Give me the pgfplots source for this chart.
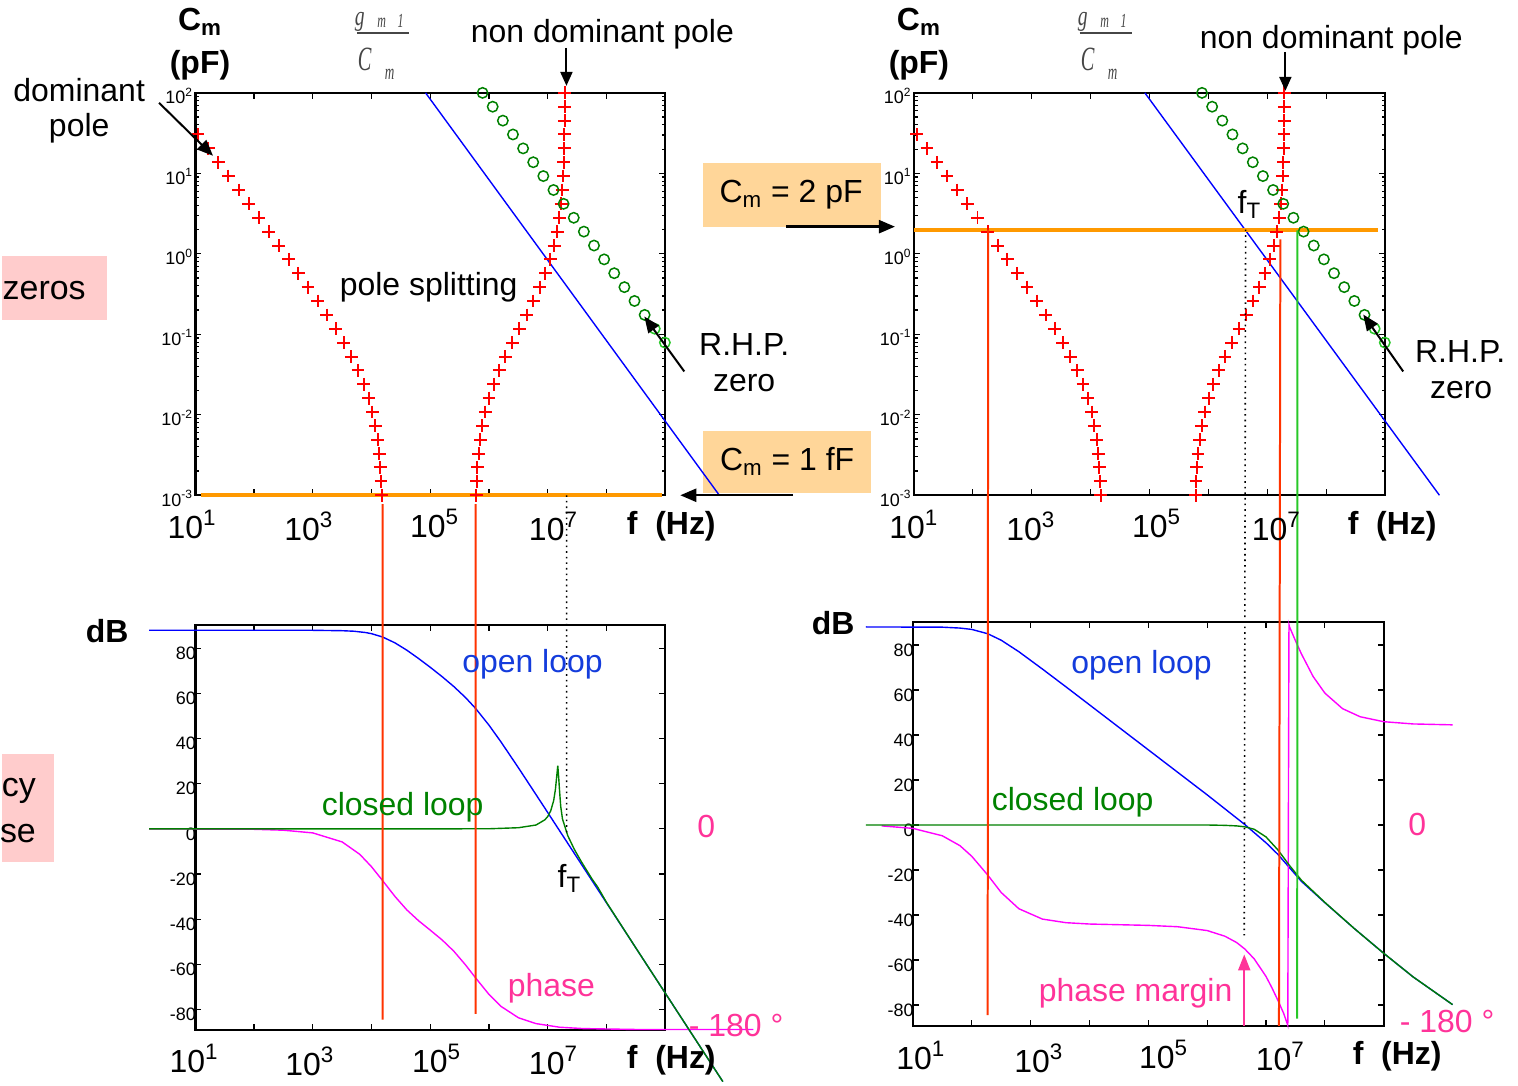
\documentclass[border=0pt]{standalone}
\usepackage{fontspec}
\setmainfont{Liberation Sans}
\newfontfamily\serifit{Liberation Serif}
\usepackage{pgfplots}
\pgfplotsset{compat=1.18}
\usetikzlibrary{arrows.meta}
\definecolor{mblue}{RGB}{0,0,255}
\definecolor{dgreen}{RGB}{0,128,0}
\definecolor{lgreen}{RGB}{40,200,40}
\definecolor{mmag}{RGB}{255,0,255}
\definecolor{pinktxt}{RGB}{255,51,153}
\definecolor{redline}{RGB}{255,51,0}
\definecolor{mred}{RGB}{255,0,0}
\definecolor{morange}{RGB}{255,153,0}
\definecolor{boxorange}{RGB}{255,214,153}
\definecolor{boxpink}{RGB}{255,204,204}
\definecolor{txtblue}{RGB}{20,60,220}
\definecolor{txtgreen}{RGB}{0,130,0}
\definecolor{fgray}{RGB}{70,70,70}
\newcommand{\fa}{\fontsize{16}{19}\selectfont}
\newcommand{\fz}{\fontsize{17}{20}\selectfont}
\newcommand{\fs}{\fontsize{9}{10}\selectfont}
\pgfplotsset{
  common/.style={scale only axis, anchor=south west, clip=false,
    xmin=1, xmax=9, xtick={1,...,9}, xticklabels={},
    tick align=inside, axis line style={line width=1.2pt},
    every tick/.style={black, line width=0.6pt},
    major tick length=3pt, minor tick length=1.8pt},
  topax/.style={common, ymin=-3, ymax=2, ytick={-3,...,2},
    yticklabels={10\textsuperscript{-3},10\textsuperscript{-2},10\textsuperscript{-1},10\textsuperscript{0},10\textsuperscript{1},10\textsuperscript{2}},
    minor ytick={-2.699,-2.523,-2.398,-2.301,-2.222,-2.155,-2.097,-2.046,
      -1.699,-1.523,-1.398,-1.301,-1.222,-1.155,-1.097,-1.046,
      -0.699,-0.523,-0.398,-0.301,-0.222,-0.155,-0.097,-0.046,
      0.301,0.477,0.602,0.699,0.778,0.845,0.903,0.954,
      1.301,1.477,1.602,1.699,1.778,1.845,1.903,1.954},
    yticklabel style={font=\fs, inner sep=0pt, xshift=-1pt, yshift=-1.5pt}},
  botax/.style={common, ymin=-89.2, ymax=90.3, ytick={-80,-60,...,80},
    yticklabels={-80,-60,-40,-20,0,20,40,60,80},
    yticklabel style={font=\fs, inner sep=0pt, xshift=0.5pt, yshift=-2.5pt}},
  plusmk/.style={only marks, mark=+, color=mred, mark size=3.2pt, mark options={draw=mred, line width=1pt}},
  circmk/.style={only marks, mark=o, color=dgreen, mark size=2.6pt, mark options={draw=dgreen, line width=0.75pt}},
  lcircmk/.style={only marks, mark=o, color=lgreen, mark size=2.6pt, mark options={draw=lgreen, line width=0.75pt}},
}
\begin{document}
\begin{tikzpicture}
\path (0pt,0pt) rectangle (759pt,-543.5pt);
% ---------- background boxes ----------
\begin{scope}[x=0.5pt,y=-0.5pt]
\fill[boxpink] (0,256) rectangle (105,320);
\fill[boxpink] (0,755) rectangle (52,863);
\fill[boxorange] (702,163) rectangle (880,227);
\fill[boxorange] (702,432) rectangle (870,494);
\end{scope}

% ---------- top left ----------
\begin{axis}[topax, at={(96.65pt,-248pt)}, width=235.35pt, height=201.5pt]
\addplot[morange, line width=2pt] coordinates {(1.1,-3) (8.95,-3)};
\addplot[mblue, line width=0.7pt] coordinates {(4.92,2) (9.92,-3)};
\addplot[plusmk] coordinates {(4.171,-3.000) (4.162,-2.828) (4.148,-2.655) (4.129,-2.483) (4.102,-2.310) (4.065,-2.138) (4.016,-1.966) (3.950,-1.793) (3.869,-1.621) (3.770,-1.448) (3.656,-1.276) (3.527,-1.103) (3.387,-0.931) (3.238,-0.759) (3.081,-0.586) (2.920,-0.414) (2.755,-0.241) (2.588,-0.069) (2.420,0.103) (2.249,0.276) (2.079,0.448) (1.907,0.621) (1.736,0.793) (1.563,0.966) (1.391,1.138) (1.220,1.310) (1.047,1.483)};
\addplot[plusmk] coordinates {(5.780,-3.000) (5.789,-2.828) (5.803,-2.655) (5.822,-2.483) (5.849,-2.310) (5.887,-2.138) (5.936,-1.966) (6.001,-1.793) (6.080,-1.621) (6.174,-1.448) (6.280,-1.276) (6.397,-1.103) (6.517,-0.931) (6.639,-0.759) (6.756,-0.586) (6.864,-0.414) (6.960,-0.241) (7.042,-0.069) (7.108,0.103) (7.160,0.276) (7.199,0.448) (7.227,0.621) (7.248,0.793) (7.262,0.966) (7.272,1.138) (7.279,1.310) (7.283,1.483) (7.286,1.655) (7.288,1.828) (7.290,2.000)};
\addplot[circmk] coordinates {(8.649,-0.759) (8.476,-0.586) (8.304,-0.414) (8.131,-0.241) (7.959,-0.069) (7.787,0.103) (7.614,0.276) (7.442,0.448) (7.269,0.621) (7.097,0.793) (6.924,0.966) (6.752,1.138) (6.580,1.310) (6.407,1.483) (6.235,1.655) (6.062,1.828) (5.890,2.000)};
\addplot[lcircmk] coordinates {(8.993,-1.103) (8.821,-0.931)};
\coordinate (TLr1) at (axis cs:4.19,-3);
\coordinate (TLr2) at (axis cs:5.77,-3);
\coordinate (TLd) at (axis cs:7.32,-3);
\end{axis}

% ---------- top right ----------
\begin{axis}[topax, at={(456.5pt,-248pt)}, width=236pt, height=201.5pt]
\addplot[mblue, line width=0.7pt] coordinates {(4.92,2) (9.92,-3)};
\addplot[morange, line width=2pt] coordinates {(1.0,0.301) (8.88,0.301)};
\addplot[plusmk] coordinates {(4.171,-3.000) (4.162,-2.828) (4.148,-2.655) (4.129,-2.483) (4.102,-2.310) (4.065,-2.138) (4.016,-1.966) (3.950,-1.793) (3.869,-1.621) (3.770,-1.448) (3.656,-1.276) (3.527,-1.103) (3.387,-0.931) (3.238,-0.759) (3.081,-0.586) (2.920,-0.414) (2.755,-0.241) (2.588,-0.069) (2.420,0.103) (2.249,0.276) (2.079,0.448) (1.907,0.621) (1.736,0.793) (1.563,0.966) (1.391,1.138) (1.220,1.310) (1.047,1.483)};
\addplot[plusmk] coordinates {(5.780,-3.000) (5.789,-2.828) (5.803,-2.655) (5.822,-2.483) (5.849,-2.310) (5.887,-2.138) (5.936,-1.966) (6.001,-1.793) (6.080,-1.621) (6.174,-1.448) (6.280,-1.276) (6.397,-1.103) (6.517,-0.931) (6.639,-0.759) (6.756,-0.586) (6.864,-0.414) (6.960,-0.241) (7.042,-0.069) (7.108,0.103) (7.160,0.276) (7.199,0.448) (7.227,0.621) (7.248,0.793) (7.262,0.966) (7.272,1.138) (7.279,1.310) (7.283,1.483) (7.286,1.655) (7.288,1.828) (7.290,2.000)};
\addplot[circmk] coordinates {(8.649,-0.759) (8.476,-0.586) (8.304,-0.414) (8.131,-0.241) (7.959,-0.069) (7.787,0.103) (7.614,0.276) (7.442,0.448) (7.269,0.621) (7.097,0.793) (6.924,0.966) (6.752,1.138) (6.580,1.310) (6.407,1.483) (6.235,1.655) (6.062,1.828) (5.890,2.000)};
\addplot[lcircmk] coordinates {(8.993,-1.103) (8.821,-0.931)};
\coordinate (TRr1) at (axis cs:2.26,0.301);
\coordinate (TRr2) at (axis cs:7.22,0.18);
\coordinate (TRg) at (axis cs:7.51,0.29);
\coordinate (TRd) at (axis cs:6.63,0.301);
\end{axis}

% ---------- bottom left ----------
\begin{axis}[botax, at={(96.65pt,-515.85pt)}, width=235.35pt, height=202.85pt]
\addplot[mblue, line width=0.7pt] coordinates {(0.215,88.0) (3.0,87.98) (3.5,87.8) (3.7,87.57) (3.9,86.98) (4.0,86.48) (4.19,84.99) (4.4,82.39) (4.6,79.17) (4.8,75.49) (5.0,71.58) (5.2,67.46) (5.4,63.07) (5.6,58.17) (5.77,53.39) (6.0,45.91) (6.2,38.64) (6.5,27.06) (6.8,15.16) (7.0,7.19) (7.3,-4.8) (7.6,-16.8) (8.0,-32.8) (9.0,-72.8) (9.98,-112)};
\addplot[mmag, line width=0.7pt] coordinates {(0.215,0) (2.0,-0.2) (2.5,-0.6) (3.0,-1.8) (3.5,-5.8) (3.8,-11.3) (4.0,-16.8) (4.19,-23.0) (4.4,-30.0) (4.6,-35.9) (4.8,-40.7) (5.0,-44.9) (5.2,-49.2) (5.4,-54.2) (5.6,-60.3) (5.77,-66.0) (6.0,-73.4) (6.2,-78.6) (6.5,-83.7) (6.8,-86.3) (7.2,-87.9) (7.6,-88.5) (8.5,-88.9) (10.5,-88.9)};
\addplot[dgreen, line width=0.7pt] coordinates {(0.215,0) (5.5,0.02) (6.0,0.04) (6.5,0.5) (6.8,1.7) (6.95,4.0) (7.0,5.5) (7.05,8.0) (7.1,12.5) (7.13,17.5) (7.155,24) (7.17,28) (7.185,23) (7.2,17) (7.22,10) (7.25,4.4) (7.34,-3.0) (7.45,-9.0) (7.57,-14.5) (7.75,-22.1) (7.85,-25.8) (8.0,-32.6) (8.5,-52.8) (9.0,-72.8) (9.5,-92.8) (9.98,-112)};
\coordinate (BLr1) at (axis cs:4.19,-84.5);
\coordinate (BLr2) at (axis cs:5.77,-82);
\coordinate (BLd) at (axis cs:7.32,-3);
\end{axis}

% ---------- bottom right ----------
\begin{axis}[botax, at={(456pt,-513.65pt)}, width=235.75pt, height=202.3pt]
\addplot[mblue, line width=0.7pt] coordinates {(0.2,88.0) (1.5,87.9) (1.8,87.5) (2.0,86.9) (2.27,85.0) (2.5,82.1) (2.8,77.0) (3.2,69.3) (3.6,61.4) (4.0,53.4) (5.0,33.4) (6.0,13.4) (6.64,0.2) (7.0,-7.9) (7.2,-13.0) (7.4,-19.0) (7.6,-25.0) (8.0,-34.5) (8.5,-46.0) (9.0,-57.0) (9.5,-67.5) (10.17,-79.8)};
\addplot[mmag, line width=0.7pt] coordinates {(0.47,-0.4) (1.0,-1.5) (1.5,-4.8) (1.8,-9.2) (2.0,-13.9) (2.27,-22.2) (2.5,-30.0) (2.8,-37.2) (3.2,-41.8) (3.6,-43.4) (4.0,-44.0) (5.0,-44.6) (5.5,-45.2) (6.0,-46.9) (6.3,-49.4) (6.5,-52.2) (6.64,-55.1) (6.8,-59.5) (7.0,-67.3) (7.1,-72.3) (7.2,-77.8) (7.3,-83.7) (7.37,-89.0) (7.39,89.0) (7.4,88.0) (7.5,81.9) (7.6,76.1) (7.8,66.0) (8.0,58.6) (8.3,51.7) (8.6,48.1) (9.0,45.9) (9.5,44.9) (10.17,44.5)};
\addplot[dgreen, line width=0.7pt] coordinates {(0.2,0) (6.0,0) (6.3,-0.15) (6.5,-0.4) (6.64,-0.8) (6.8,-1.9) (7.0,-5.3) (7.2,-11.0) (7.4,-18.0) (7.6,-24.5) (8.0,-34.4) (8.5,-46.0) (9.0,-57.0) (9.5,-67.5) (10.17,-79.8)};
\coordinate (BRr1) at (axis cs:2.27,-84.5);
\coordinate (BRr2) at (axis cs:7.22,-89.2);
\coordinate (BRg) at (axis cs:7.53,-86);
\coordinate (BRd) at (axis cs:6.63,-49);
\coordinate (BRa1) at (axis cs:6.63,-89.2);
\coordinate (BRa2) at (axis cs:6.63,-57.5);
\end{axis}

% ---------- connecting lines ----------
\draw[redline, line width=1pt] ([yshift=-4.5pt]TLr1) -- (BLr1);
\draw[redline, line width=1pt] ([yshift=-4.5pt]TLr2) -- (BLr2);
\draw[black, dotted, line width=0.8pt] (TLd) -- (BLd);
\draw[redline, line width=1pt] (TRr1) -- (BRr1);
\draw[redline, line width=1pt] (TRr2) -- (BRr2);
\draw[lgreen, line width=1pt] (TRg) -- (BRg);
\draw[black, dotted, line width=0.8pt] (TRd) -- (BRd);
\draw[pinktxt, line width=1pt, -{Triangle[length=8pt,width=6pt]}] (BRa1) -- (BRa2);

% ---------- annotations ----------
\begin{scope}[x=0.5pt,y=-0.5pt]
\node[font=\fz, anchor=west, inner sep=0pt] at (0,291) {zeros};
\node[font=\fz, anchor=east, inner sep=0pt] at (34,792) {cy};
\node[font=\fz, anchor=east, inner sep=0pt] at (34,835) {se};
\foreach \dx in {0,720} {
  \node[font=\fa\bfseries] at (198+\dx,22) {C\textsubscript{m}};
  \node[font=\fa\bfseries] at (198+\dx,65) {(pF)};
}
\foreach \dx in {0,724} {
  \draw[fgray, line width=1pt] (355+\dx,33) -- (407+\dx,33);
  \node[text=fgray, inner sep=0pt, anchor=base] at (358+\dx,26) {\scalebox{0.7}[1]{\fontsize{14}{14}\selectfont\serifit\itshape g}};
  \node[text=fgray, inner sep=0pt, anchor=base] at (380+\dx,28) {\scalebox{0.6}[1]{\fontsize{10}{10}\selectfont\serifit\itshape m}};
  \node[text=fgray, inner sep=0pt, anchor=base] at (399+\dx,28) {\scalebox{0.6}[1]{\fontsize{10}{10}\selectfont\serifit\itshape 1}};
  \node[text=fgray, inner sep=0pt] at (363+\dx,60) {\scalebox{0.6}[1]{\fontsize{17}{17}\selectfont\serifit\itshape C}};
  \node[text=fgray, inner sep=0pt] at (388+\dx,74) {\scalebox{0.6}[1]{\fontsize{11}{11}\selectfont\serifit\itshape m}};
}
\node[font=\fa] at (601,34) {non dominant pole};
\node[font=\fa] at (1331,40) {non dominant pole};
\draw[line width=1pt, -{Triangle[length=7pt,width=6pt]}] (565,48) -- (565,86);
\draw[line width=1pt, -{Triangle[length=7pt,width=6pt]}] (1285,52) -- (1285,91);
\node[font=\fa] at (77,90) {dominant};
\node[font=\fa] at (77,128) {pole};
\draw[line width=1pt, -{Triangle[length=8pt,width=6.5pt]}] (157,103) -- (211,156);
\node[font=\fa] at (427,288) {pole splitting};
\node[font=\fa] at (743,345) {R.H.P.};
\node[font=\fa] at (743,384) {zero};
\draw[line width=1pt, -{Triangle[length=8pt,width=6.5pt]}] (683,372) -- (643,317);
\node[font=\fa] at (1460,352) {R.H.P.};
\node[font=\fa] at (1461,391) {zero};
\draw[line width=1pt, -{Triangle[length=8pt,width=6.5pt]}] (1403,372) -- (1363,315);
\node[font=\fa] at (1249,205) {f\textsubscript{T}};
\node[font=\fa] at (790,195) {C\textsubscript{m} = 2 pF};
\draw[line width=1.2pt, -{Triangle[length=8pt,width=6.5pt]}] (785,227) -- (894,227);
\node[font=\fa] at (786,462) {C\textsubscript{m} = 1 fF};
\draw[line width=1.2pt, -{Triangle[length=8pt,width=6.5pt]}] (792,496) -- (679,496);
\foreach \xa/\xb/\yy/\ex in {190/913/525/1, 307/1030/527/3, 433/1156/524/5, 552/1276/527/7} {
  \node[font=\fa] at (\xa,\yy) {10\textsuperscript{\ex}};
  \node[font=\fa] at (\xb,\yy) {10\textsuperscript{\ex}};
}
\node[font=\fa\bfseries] at (670,527) {f\ \ (Hz)};
\node[font=\fa\bfseries] at (1392,527) {f\ \ (Hz)};
\foreach \xa/\ya/\xb/\yb/\ex in {192/1060/920/1057/1, 308/1063/1038/1060/3, 435/1060/1163/1056/5, 552/1062/1280/1058/7} {
  \node[font=\fa] at (\xa,\ya) {10\textsuperscript{\ex}};
  \node[font=\fa] at (\xb,\yb) {10\textsuperscript{\ex}};
}
\node[font=\fa\bfseries] at (670,1062) {f\ \ (Hz)};
\node[font=\fa\bfseries] at (1397,1058) {f\ \ (Hz)};
\node[font=\fa\bfseries] at (105,632) {dB};
\node[font=\fa\bfseries] at (832,624) {dB};
\node[font=\fa, text=txtblue] at (531,665) {open loop};
\node[font=\fa, text=txtblue] at (1141,666) {open loop};
\node[font=\fa, text=txtgreen] at (401,808) {closed loop};
\node[font=\fa, text=txtgreen] at (1072,803) {closed loop};
\node[font=\fa, text=pinktxt] at (550,990) {phase};
\node[font=\fa, text=pinktxt] at (1135,995) {phase margin};
\node[font=\fa, text=pinktxt] at (705,828) {0};
\node[font=\fa, text=pinktxt] at (1417,826) {0};
\node[font=\fa, text=pinktxt] at (735,1027) {- 180 °};
\node[font=\fa, text=pinktxt] at (1447,1023) {- 180 °};
\node[font=\fa] at (568,880) {f\textsubscript{T}};
\end{scope}
\end{tikzpicture}
\end{document}
